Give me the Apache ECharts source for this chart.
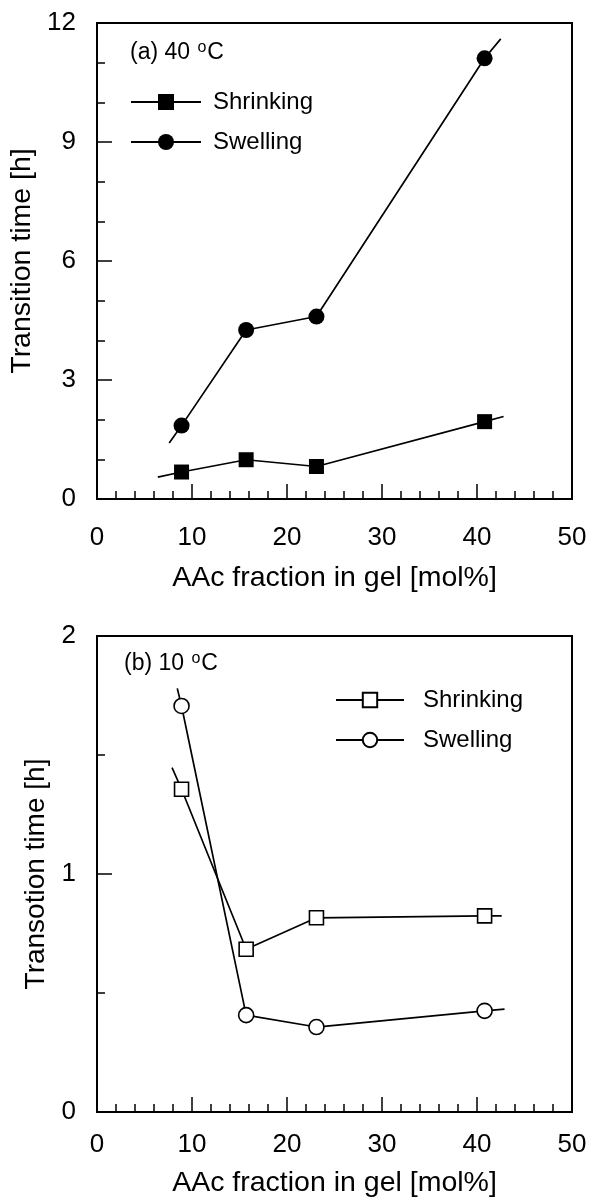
<!DOCTYPE html>
<html>
<head>
<meta charset="utf-8">
<script src="https://cdn.jsdelivr.net/npm/echarts@6/dist/echarts.min.js"></script>
<style>
html,body{margin:0;padding:0;background:#fff;}
#chart{width:591px;height:1197px;}
</style>
</head>
<body>
<div id="chart"></div>
<script>
// ---- Data ----
const aacFraction = [8.9, 15.7, 23.1, 40.8];           // AAc fraction in gel [mol%]
// (a) 40 °C
const shrink40 = [0.68, 0.99, 0.82, 1.95];
const swell40  = [1.85, 4.26, 4.60, 11.11];
const shrink40Ends = [[6.4, 0.55], [42.8, 2.08]];      // drawn line extends beyond data
const swell40Ends  = [[7.6, 1.41], [42.5, 11.6]];
// (b) 10 °C
const shrink10 = [1.356, 0.684, 0.816, 0.824];
const swell10  = [1.706, 0.407, 0.357, 0.425];
const shrink10Ends = [[7.9, 1.447], [42.6, 0.824]];
const swell10Ends  = [[8.45, 1.78], [42.9, 0.432]];
// axis tick settings
const xTicks = {min: 0, max: 50, interval: 10};
const y40Ticks = {min: 0, max: 12, interval: 3};
const y10Ticks = {min: 0, max: 2, interval: 1};

const FONT = 'Liberation Sans, Arial, sans-serif';

function build(xs, ys, ends) {
  const pts = [{value: ends[0], symbol: 'none'}];
  xs.forEach((x, i) => pts.push([x, ys[i]]));
  pts.push({value: ends[1], symbol: 'none'});
  return pts;
}

function xAxisCfg(gridIndex, labelMargin, nameGap) {
  return {
    type: 'value', gridIndex: gridIndex,
    min: xTicks.min, max: xTicks.max, interval: xTicks.interval,
    name: 'AAc fraction in gel [mol%]', nameLocation: 'middle', nameGap: nameGap,
    nameTextStyle: {fontFamily: FONT, fontSize: 28.5, color: '#000'},
    axisLine: {show: true, lineStyle: {color: '#000', width: 2}},
    axisTick: {show: true, inside: true, length: 15, lineStyle: {color: '#000', width: 1.5}},
    minorTick: {show: true, splitNumber: 5, length: 8, lineStyle: {color: '#000', width: 1.5}},
    axisLabel: {fontFamily: FONT, fontSize: 26, color: '#000', margin: labelMargin},
    splitLine: {show: false}
  };
}
function yAxisCfg(gridIndex, ticks, minorSplit, name, nameSize, nameGap) {
  return {
    type: 'value', gridIndex: gridIndex,
    min: ticks.min, max: ticks.max, interval: ticks.interval,
    name: name, nameLocation: 'middle', nameGap: nameGap,
    nameTextStyle: {fontFamily: FONT, fontSize: nameSize, color: '#000'},
    axisLine: {show: true, lineStyle: {color: '#000', width: 2}},
    axisTick: {show: true, inside: true, length: 15, lineStyle: {color: '#000', width: 1.5}},
    minorTick: {show: true, splitNumber: minorSplit, length: 8, lineStyle: {color: '#000', width: 1.5}},
    axisLabel: {fontFamily: FONT, fontSize: 26, color: '#000', margin: 21},
    splitLine: {show: false}
  };
}

const lineStyle = {color: '#000', width: 1.7};
const titleStyle = {
  fontFamily: FONT, fontSize: 23, fontWeight: 'normal', color: '#000',
  rich: {sup: {fontFamily: FONT, fontSize: 16, color: '#000', padding: [0, 1, 10, 1]}}
};

const option = {
  backgroundColor: '#fff',
  animation: false,
  title: [
    {text: '(a) 40 {sup|o}C', left: 130, top: 40, padding: 0, textStyle: titleStyle},
    {text: '(b) 10 {sup|o}C', left: 124, top: 651, padding: 0, textStyle: titleStyle}
  ],
  legend: [
    {
      data: ['Shrinking', 'Swelling'], orient: 'vertical', left: 130, top: 90, padding: 0,
      itemWidth: 70, itemHeight: 20, itemGap: 16,
      textStyle: {fontFamily: FONT, fontSize: 24, color: '#000', lineHeight: 24, padding: [0, 0, 0, 7]}
    },
    {
      data: ['Shrinking (b)', 'Swelling (b)'], orient: 'vertical', left: 335, top: 688, padding: 0,
      itemWidth: 68, itemHeight: 18, itemGap: 16,
      formatter: function (n) { return n.replace(' (b)', ''); },
      textStyle: {fontFamily: FONT, fontSize: 24, color: '#000', lineHeight: 24, padding: [0, 0, 0, 14]}
    }
  ],
  grid: [
    {left: 97, top: 23, width: 475, height: 476, show: true, borderColor: '#000', borderWidth: 2,
     backgroundColor: 'transparent', outerBoundsMode: 'none', containLabel: false},
    {left: 97, top: 636, width: 475, height: 476, show: true, borderColor: '#000', borderWidth: 2,
     backgroundColor: 'transparent', outerBoundsMode: 'none', containLabel: false}
  ],
  xAxis: [xAxisCfg(0, 26, 65), xAxisCfg(1, 20, 57)],
  yAxis: [
    yAxisCfg(0, y40Ticks, 3, 'Transition time [h]', 28.5, 41),
    yAxisCfg(1, y10Ticks, 2, 'Transotion time [h]', 28, 28)
  ],
  series: [
    {name: 'Shrinking', type: 'line', xAxisIndex: 0, yAxisIndex: 0, data: build(aacFraction, shrink40, shrink40Ends),
     symbol: 'rect', symbolSize: 15, lineStyle: lineStyle, itemStyle: {color: '#000'}},
    {name: 'Swelling', type: 'line', xAxisIndex: 0, yAxisIndex: 0, data: build(aacFraction, swell40, swell40Ends),
     symbol: 'circle', symbolSize: 16, lineStyle: lineStyle, itemStyle: {color: '#000'}},
    {name: 'Shrinking (b)', type: 'line', xAxisIndex: 1, yAxisIndex: 1, data: build(aacFraction, shrink10, shrink10Ends),
     symbol: 'rect', symbolSize: 14, lineStyle: lineStyle, itemStyle: {color: '#fff', borderColor: '#000', borderWidth: 1.6}},
    {name: 'Swelling (b)', type: 'line', xAxisIndex: 1, yAxisIndex: 1, data: build(aacFraction, swell10, swell10Ends),
     symbol: 'circle', symbolSize: 15, lineStyle: lineStyle, itemStyle: {color: '#fff', borderColor: '#000', borderWidth: 1.6}}
  ]
};

const chart = echarts.init(document.getElementById('chart'), null, {renderer: 'canvas'});
chart.setOption(option);
</script>
</body>
</html>
